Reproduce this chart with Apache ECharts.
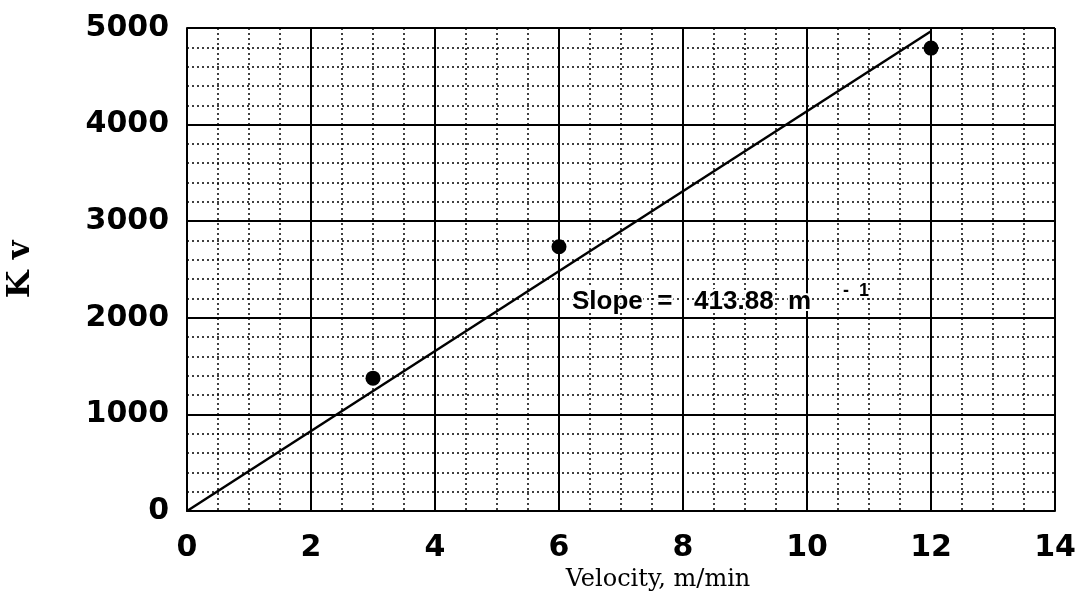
<!DOCTYPE html>
<html>
<head>
<meta charset="utf-8">
<script src="https://cdn.jsdelivr.net/npm/echarts@6/dist/echarts.min.js"></script>
<style>
  html, body { margin: 0; padding: 0; background: #fff; }
  #chart { width: 1081px; height: 596px; }
</style>
</head>
<body>
<div id="chart"></div>
<script>
// measured points (velocity m/min, Kv)
const velocity = [3, 6, 12];
const kv = [1375, 2736, 4792];
// fitted line end points
const fitX = [0, 12];
const fitY = [0, 4966];

const chart = echarts.init(document.getElementById('chart'));

const tickFont = { fontFamily: 'DejaVu Sans', fontWeight: 'bold', fontSize: 30, color: '#000' };

const option = {
  backgroundColor: '#fff',
  animation: false,
  grid: { left: 187, right: 26, top: 28, bottom: 85, outerBoundsMode: 'none', containLabel: false },
  xAxis: {
    type: 'value',
    min: 0, max: 14, interval: 2,
    name: 'Velocity, m/min',
    nameLocation: 'middle',
    nameGap: 52,
    nameTextStyle: { fontFamily: 'DejaVu Serif', fontSize: 24, color: '#000', padding: [0, 0, 0, 74] },
    axisLine: { lineStyle: { color: '#000', width: 2 } },
    axisTick: { show: false },
    axisLabel: { ...tickFont, margin: 22 },
    splitLine: { show: true, lineStyle: { color: '#000', width: 2 } },
    minorTick: { show: false, splitNumber: 4 },
    minorSplitLine: { show: true, lineStyle: { color: '#000', width: 1.5, type: [2, 3] } }
  },
  yAxis: {
    type: 'value',
    min: 0, max: 5000, interval: 1000,
    name: 'K v',
    nameLocation: 'middle',
    nameRotate: 90,
    nameGap: 150,
    nameTextStyle: { fontFamily: 'DejaVu Serif', fontWeight: 'bold', fontSize: 32, color: '#000' },
    axisLine: { show: true, lineStyle: { color: '#000', width: 2 } },
    axisTick: { show: false },
    axisLabel: { ...tickFont, margin: 18, formatter: (v) => String(v) },
    splitLine: { show: true, lineStyle: { color: '#000', width: 2 } },
    minorTick: { show: false, splitNumber: 5 },
    minorSplitLine: { show: true, lineStyle: { color: '#000', width: 1.5, type: [2, 3] } }
  },
  series: [
    {
      type: 'line',
      data: fitX.map((x, i) => [x, fitY[i]]),
      symbol: 'none',
      lineStyle: { color: '#000', width: 2.5 },
      z: 3
    },
    {
      type: 'scatter',
      data: velocity.map((v, i) => [v, kv[i]]),
      symbol: 'circle',
      symbolSize: 15,
      itemStyle: { color: '#000', opacity: 1 },
      z: 4
    }
  ],
  graphic: [
    {
      type: 'text',
      x: 572, y: 302,
      z: 10,
      style: {
        text: 'Slope  =   413.88  m',
        font: 'bold 26px "Liberation Sans"',
        fill: '#000',
        stroke: '#fff',
        lineWidth: 4,
        verticalAlign: 'middle'
      }
    },
    {
      type: 'text',
      x: 843, y: 291,
      z: 10,
      style: {
        text: '-  1',
        font: 'bold 18px "Liberation Sans"',
        fill: '#000',
        stroke: '#fff',
        lineWidth: 3,
        verticalAlign: 'middle'
      }
    }
  ]
};

chart.setOption(option);
</script>
</body>
</html>
